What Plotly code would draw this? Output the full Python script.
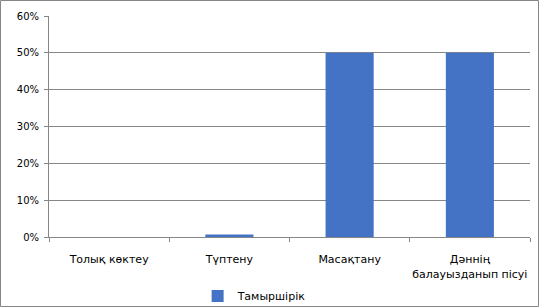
import plotly.graph_objects as go

categories = ["Толық көктеу", "Түптену", "Масақтану", "Дәннің<br>балауызданып пісуі"]
values = [0.0, 0.007, 0.5, 0.5]
series_name = "Тамыршірік"
y_ticks = [0, 0.1, 0.2, 0.3, 0.4, 0.5, 0.6]

W, H = 539, 307
ml, mr, mt, mb = 49, 9, 16, 70
pw = W - ml - mr
ph = H - mt - mb

fig = go.Figure()
fig.add_trace(go.Bar(
    x=categories, y=values, name=series_name,
    marker=dict(color="#4472C4", line=dict(width=0)),
    showlegend=True,
))

grid = "#868686"
fig.update_layout(
    width=W, height=H,
    margin=dict(l=ml, r=mr, t=mt, b=mb, autoexpand=False),
    paper_bgcolor="white", plot_bgcolor="white",
    font=dict(family="DejaVu Sans", size=11, color="#000000"),
    bargap=0.6,
    showlegend=True,
    legend=dict(orientation="h", x=0.4275, xanchor="center", y=-0.267, yanchor="middle",
                font=dict(size=11), itemwidth=30, tracegroupgap=0,
                bgcolor="rgba(0,0,0,0)"),
    xaxis=dict(
        showline=True, linecolor=grid, linewidth=1,
        ticks="outside", tickson="boundaries", ticklen=4, tickcolor=grid,
        showgrid=False, tickfont=dict(size=11), tickangle=0, automargin=False,
        ticklabelstandoff=12,
    ),
    yaxis=dict(
        range=[0, 0.6], tickvals=y_ticks, tickformat=".0%",
        showline=True, linecolor=grid, linewidth=1,
        ticks="outside", ticklen=4, tickcolor=grid,
        showgrid=True, gridcolor=grid, gridwidth=1,
        zeroline=False, tickfont=dict(size=10), automargin=False,
        ticklabelstandoff=3,
    ),
    shapes=[dict(
        type="rect", xref="paper", yref="paper",
        x0=(-ml + 0.5) / pw, x1=(pw + mr - 0.5) / pw,
        y0=(-mb + 0.5) / ph, y1=(ph + mt - 0.5) / ph,
        line=dict(color="#868686", width=1), layer="above",
    )],
)

fig.write_html("out.html")
